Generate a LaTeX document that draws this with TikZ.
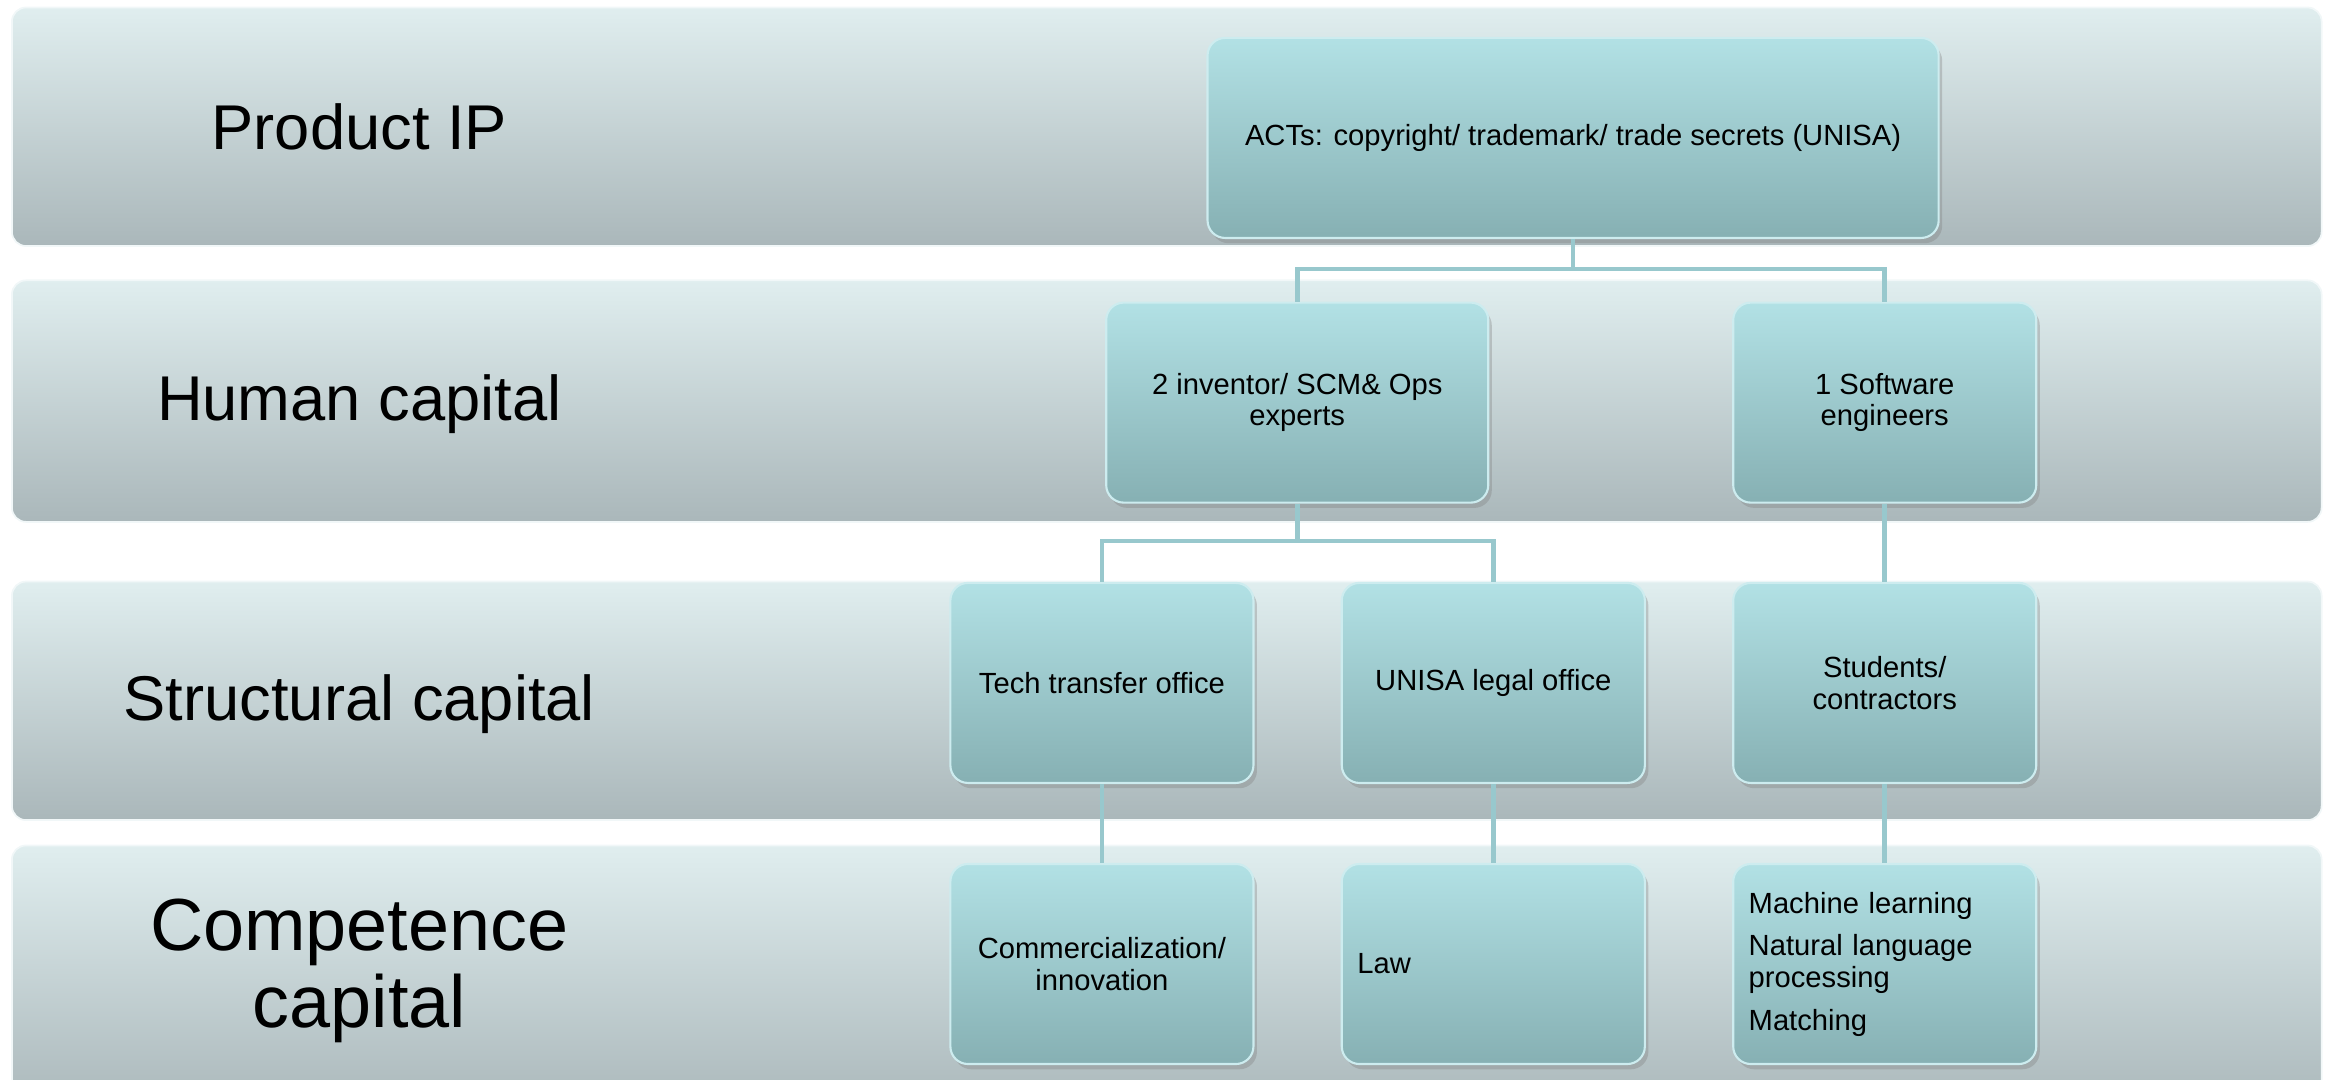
\documentclass[tikz,border=0pt]{standalone}
\usepackage{fontspec}
\setmainfont{Liberation Sans}
\usetikzlibrary{positioning, shadows}
\definecolor{BT}{RGB}{224,238,239}
\definecolor{BB}{RGB}{170,183,186}
\definecolor{NT}{RGB}{178,225,229}
\definecolor{NB}{RGB}{134,176,179}
\definecolor{NE}{RGB}{205,236,239}
\definecolor{LK}{RGB}{152,200,205}

\begin{document}
\begin{tikzpicture}[x=0.01491cm, y=-0.01491cm,
  band/.style={rounded corners=4pt, top color=BT, bottom color=BB,
    draw=white!55!BT, line width=0.5pt},
  lbl/.style={font=\fontsize{18}{20}\selectfont, align=center},
  box/.style={rounded corners=5pt, top color=NT, bottom color=NB,
    draw=NE, line width=0.6pt,
    drop shadow={shadow xshift=1pt, shadow yshift=-1.5pt, opacity=0.35},
    minimum height=2cm, minimum width=3.03cm, inner sep=4.4pt,
    font=\fontsize{8.3}{8.9}\selectfont, align=center},
  lbox/.style={box, text width=2.72cm, align=left},
  link/.style={draw=LK, line width=1.3pt}]
\clip (0,0) rectangle (1568,724);

% Bands
\draw[band] (8,5) rectangle (1557,165);
\draw[band] (8,188) rectangle (1557,350);
\draw[band] (8,390) rectangle (1557,550);
\draw[band] (8,567) rectangle (1557,745);

% Band labels
\node[lbl] (ip) at (241,85) {Product IP};
\node[lbl] (human) at (241,271) {Human capital};
\node[lbl] (struct) at (241,472) {Structural capital};
\node[lbl, font=\fontsize{21}{22}\selectfont] (comp) at (241,651) {Competence\\capital};

% Boxes
\node[box, minimum width=7.31cm] (acts) at (1055,92.5) {ACTs: copyright/ trademark/ trade secrets (UNISA)};
\node[box, minimum width=3.82cm] (inv) at (870,270) {2 inventor/ SCM\& Ops\\experts};
\node[box] (soft) at (1264,270) {1 Software\\engineers};
\node[box] (tto) at (739,458) {Tech transfer office};
\node[box] (legal) at (1001.5,458) {UNISA legal office};
\node[box] (stud) at (1264,458) {Students/\\contractors};
\node[box] (comm) at (739,646.5) {Commercialization/\\innovation};
\node[lbox] (law) at (1001.5,646.5) {Law};
\node[lbox] (ml) at (1264,646.5) {Machine learning\\[3.3pt]
  Natural language\\processing\\[3.3pt] Matching};

% Connectors
\draw[link] (acts.south) -- ++(0,20) -| (inv.north);
\draw[link] (acts.south) -- ++(0,20) -| (soft.north);
\draw[link] (inv.south) -- ++(0,25) -| (tto.north);
\draw[link] (inv.south) -- ++(0,25) -| (legal.north);
\draw[link] (soft) -- (stud);
\draw[link] (tto) -- (comm);
\draw[link] (legal) -- (law);
\draw[link] (stud) -- (ml);
\end{tikzpicture}
\end{document}
